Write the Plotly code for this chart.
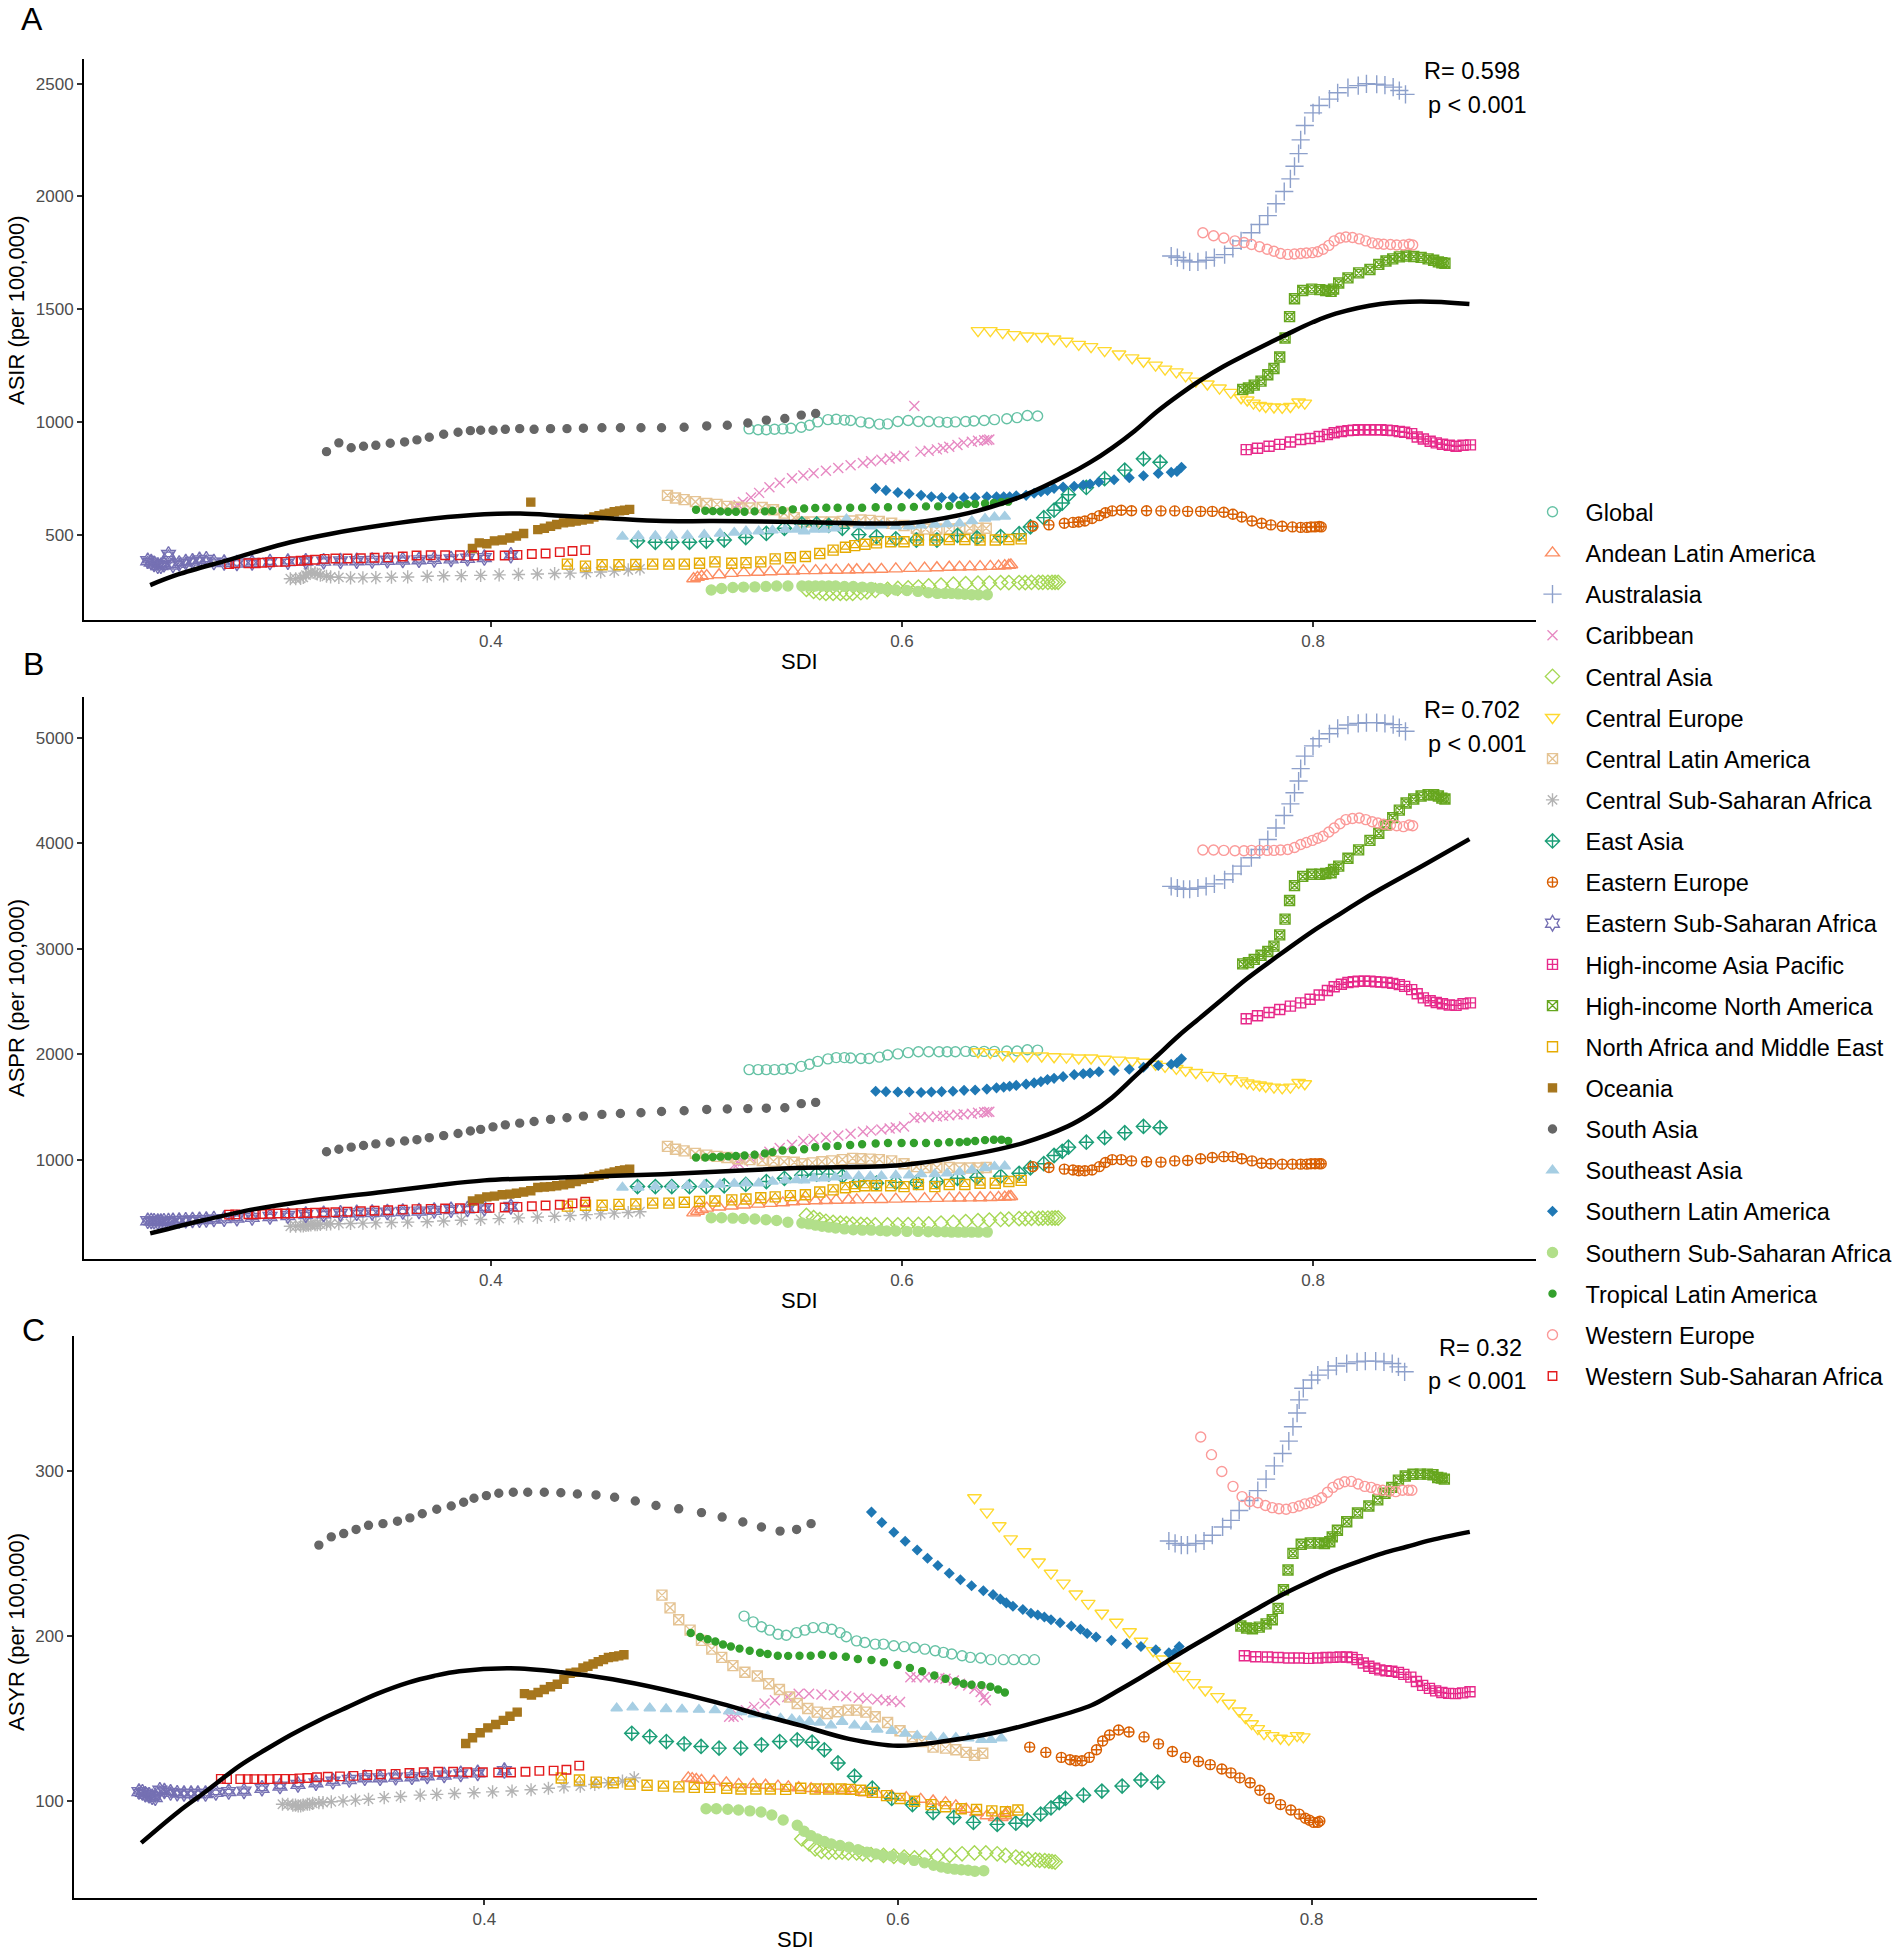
import plotly.graph_objects as go

# ---------- data: SDI (X_*) and panel values (A_* ASIR, B_* ASPR, C_* ASYR) ----------
X_GLOBAL=[.5256,.530,.534,.538,.542,.546,.551,.555,.559,.564,.568,.572,.575,.580,.584,.589,.593,.598,.603,.608,.613,.618,.622,.626,.631,.635,.640,.645,.651,.656,.661,.666]
A_GLOBAL=[969,965,965,967,969,972,976,985,1000,1010,1012,1008,1006,1000,995,990,991,1002,1006,1002,1002,1000,998,1000,1002,1004,1006,1010,1014,1019,1028,1026]
B_GLOBAL=[1854,1854,1854,1854,1858,1865,1885,1905,1932,1956,1968,1968,1964,1960,1960,1972,1992,2003,2015,2023,2023,2023,2023,2023,2027,2027,2027,2027,2031,2031,2043,2039]
C_GLOBAL=[212,208.5,205.5,203.5,201,200.4,202,203.5,205,205,204,202,199.5,197,196,195,195,194,193.5,193,192,191,190,189,188,187,186.6,185.6,185.6,185.6,185.6,185.6]

X_ANDEAN=[.4986,.5005,.5025,.505,.511,.517,.523,.530,.536,.542,.547,.552,.558,.563,.568,.574,.578,.584,.590,.597,.604,.611,.617,.623,.628,.633,.638,.643,.647,.650,.652,.653]
A_ANDEAN=[304,310,315,318,322,328,331,333,335,337,338,340,340,342,342,343,344,345,346,348,350,351,353,355,356,357,358,359,360,362,364,366]
B_ANDEAN=[495,510,525,540,550,560,570,578,585,590,600,605,610,612,615,617,618,620,622,625,628,630,632,635,636,637,638,640,642,645,648,650]
C_ANDEAN=[114,113.5,113,112.5,112,111,110,110,109.5,109,108.5,108,107.5,107,107,106.5,106,105,104,103,102,101,100,99,97,95,93,91,90,90,91,93]

X_AUSTRALASIA=[.731,.734,.737,.740,.744,.748,.752,.757,.761,.765,.770,.774,.778,.782,.786,.789,.791,.793,.794,.796,.800,.803,.808,.812,.817,.822,.826,.831,.835,.839,.842,.845]
A_AUSTRALASIA=[1736,1729,1717,1710,1710,1717,1729,1742,1770,1803,1839,1876,1915,1968,2022,2078,2134,2190,2251,2315,2371,2404,2432,2460,2483,2492,2500,2498,2494,2485,2470,2453]
B_AUSTRALASIA=[3592,3577,3565,3565,3577,3592,3616,3655,3711,3785,3864,3943,4037,4147,4265,4375,4481,4592,4710,4828,4926,4993,5040,5091,5123,5139,5146,5146,5139,5127,5099,5064]
C_AUSTRALASIA=[257.5,256,255,255,256,257.5,261,266,270,276,282,288,295,303,310.5,318,326.7,335,343,350,355,358,361,363.5,365,366,366.5,366.5,366,365,363,360]

X_CARIBBEAN=[.5184,.5205,.5226,.5265,.5305,.5355,.5405,.5465,.552,.557,.563,.569,.575,.581,.585,.590,.594,.597,.601,.606,.609,.613,.617,.620,.623,.627,.630,.634,.637,.640,.6415,.6425]
A_CARIBBEAN=[620,630,645,665,685,710,730,750,762,772,783,795,808,818,825,832,838,845,850,1070,868,872,878,884,890,897,908,912,916,918,920,922]
B_CARIBBEAN=[950,965,985,1015,1040,1075,1110,1140,1177,1195,1210,1228,1245,1265,1275,1285,1295,1305,1315,1395,1401,1405,1410,1415,1420,1425,1430,1435,1445,1450,1452,1455]
C_CARIBBEAN=[151,151,152,155,157,159,161,163,165,165,164.5,164,163.5,162.5,162,161.5,161,160.5,160,175,175,175,175,174.5,174,173,171,170,168,166,163,161]

X_CENTRAL_ASIA=[.5535,.557,.560,.563,.5665,.570,.573,.576,.580,.583,.587,.593,.598,.603,.608,.613,.619,.625,.631,.637,.6425,.648,.652,.657,.660,.663,.6665,.6685,.671,.673,.6745,.676]
A_CENTRAL_ASIA=[257,248,242,239,239,239,239,239,242,246,252,257,261,263,267,272,276,280,282,284,285,287,287,287,287,288,288,288,288,288,288,288]
B_CENTRAL_ASIA=[470,450,430,415,405,398,392,388,385,382,380,380,381,383,385,390,398,405,412,420,426,432,436,440,441,442,443,444,445,445,446,446]
C_CENTRAL_ASIA=[77,74,71,69.5,69,69,69,68.5,68.5,68,67.5,67,66.5,66,65.5,66,66.5,67,68,68.5,68.5,68,67,66,65.2,64.7,64.3,64,63.8,63.5,63.3,63]

X_CENTRAL_EUROPE=[.637,.643,.649,.6545,.661,.668,.674,.680,.686,.692,.6986,.7056,.712,.7175,.7234,.728,.7335,.738,.743,.7486,.7545,.760,.765,.768,.771,.774,.777,.781,.785,.789,.793,.796]
A_CENTRAL_EUROPE=[1405,1405,1396,1387,1381,1379,1368,1358,1344,1334,1316,1301,1284,1269,1252,1234,1222,1204,1181,1168,1150,1131,1107,1097,1083,1073,1068,1066,1064,1068,1088,1083]
B_CENTRAL_EUROPE=[2023,2015,1995,1983,1983,1983,1976,1972,1964,1964,1952,1944,1936,1924,1905,1885,1865,1846,1826,1799,1787,1767,1747,1728,1716,1708,1696,1688,1680,1688,1732,1720]
C_CENTRAL_EUROPE=[283.7,275,266.7,258.8,251,244.8,238,232,225.4,219.7,213.7,208.3,202.5,196.8,191,186,181.6,176.7,171.7,167.2,163.2,159.2,154.5,150.5,146.8,143.8,140.8,139.6,138,137.3,139.6,138.8]

X_CENTRAL_LATAM=[.4859,.4898,.494,.4995,.505,.510,.5148,.5202,.526,.532,.5375,.5427,.5476,.5513,.5564,.561,.5658,.571,.576,.580,.5845,.589,.595,.601,.607,.6115,.617,.623,.628,.633,.637,.641]
A_CENTRAL_LATAM=[674,662,655,646,638,634,625,621,618,620,610,595,575,556,556,556,556,558,560,565,563,558,550,540,528,525,525,525,526,528,528,528]
B_CENTRAL_LATAM=[1126,1098,1083,1059,1043,1031,1020,1008,1000,992,985,980,975,961,969,980,988,1000,1012,1008,1005,1000,988,961,933,925,925,925,921,921,921,925]
C_CENTRAL_LATAM=[224.7,217,209.8,203.5,197.3,192,187,182,178,175.7,171,167.5,163,159,156,153.8,153,154,155,155,153.8,151,147.5,142.5,138.8,136,132.6,132,131,129.4,127.6,128.9]

X_CENTRAL_SSA=[.3024,.305,.3074,.3087,.31,.3112,.3124,.3144,.3155,.317,.32,.322,.326,.3317,.3377,.344,.3516,.3595,.369,.377,.3856,.395,.404,.4134,.4226,.431,.4385,.4464,.4534,.46,.4668,.4725]
A_CENTRAL_SSA=[304,304,306,310,320,330,333,330,325,320,315,312,310,308,308,309,311,312,315,317,318,319,321,323,325,327,329,331,334,338,343,348]
B_CENTRAL_SSA=[368,368,370,372,375,378,380,382,384,386,388,390,392,394,397,400,403,407,411,418,425,432,440,447,455,462,470,478,485,492,498,505]
C_CENTRAL_SSA=[98,98,97.5,97.5,97,97,97.5,98,98,98.5,99,99,99.5,100,100.5,101,102,102.7,103.5,104,104.5,105,105.5,106,106.8,107.7,108.5,109,110,111,112,114]

X_EAST_ASIA=[.4713,.480,.488,.4966,.5048,.5135,.524,.534,.5428,.5513,.5585,.5644,.571,.579,.5876,.597,.607,.617,.627,.6365,.648,.657,.6625,.669,.674,.678,.681,.6897,.6986,.7084,.7175,.7256]
A_EAST_ASIA=[472,466,466,466,470,476,487,505,528,547,547,541,528,500,491,481,476,476,496,485,491,504,534,575,608,640,677,709,748,786,836,821]
B_EAST_ASIA=[744,744,744,744,744,752,764,792,823,851,862,862,843,792,776,784,784,792,823,831,843,870,921,961,1039,1079,1118,1165,1208,1255,1315,1303]
C_EAST_ASIA=[141,139,136,134.6,133,132,132,134,136,137,135.6,131,123,115,107.7,101.5,97.8,93,90,87,85.8,86.5,88.5,92,95.8,99,101.5,103.5,106,109,112.7,111.4]

X_EASTERN_EUROPE=[.6637,.6715,.679,.6832,.686,.689,.6925,.696,.699,.7023,.7067,.7117,.719,.726,.7327,.739,.7453,.751,.7566,.761,.7653,.7703,.775,.7795,.785,.790,.794,.797,.799,.801,.803,.804]
A_EASTERN_EUROPE=[537,543,550,554,556,560,571,584,597,605,608,606,606,605,605,603,603,603,599,590,578,560,550,543,537,534,532,532,534,534,536,534]
B_EASTERN_EUROPE=[933,925,910,902,894,894,902,933,972,1000,1000,988,980,976,988,992,1008,1020,1028,1028,1008,988,965,961,957,957,957,957,961,961,961,961]
C_EASTERN_EUROPE=[132.6,129.4,126.4,125,124.4,124.4,126.4,131,136.3,140,143,141.8,138.8,134.6,130,126.4,123.9,122,119.4,117,114,111,106.5,101.5,97.8,94.5,92,89.5,88.3,87,87,87.8]

X_EASTERN_SSA=[.233,.2347,.2361,.2379,.2394,.2409,.2431,.2453,.2483,.2515,.2548,.2582,.2615,.2652,.2702,.2764,.2838,.2925,.3012,.3099,.3186,.3268,.3347,.3422,.3496,.3571,.365,.3724,.3806,.3886,.3968,.4097]
A_EASTERN_SSA=[384,378,370,362,362,368,412,365,372,378,382,388,390,378,376,374,376,378,380,382,382,383,384,385,386,387,388,390,392,395,398,408]
B_EASTERN_SSA=[420,418,415,412,412,414,418,420,422,425,428,430,432,436,440,445,452,460,470,478,485,490,495,498,502,508,512,518,525,532,540,555]
C_EASTERN_SSA=[105.7,105.2,104,103.5,102.5,102,106.5,106,105.2,104.7,104.5,104.5,104.5,104.5,105.2,105.7,106,107.7,109,110,111,112,113,114,114,114.4,114.6,115.2,115.7,116.4,117,118.4]

X_HI_ASIA_PACIFIC=[.7675,.773,.7786,.7838,.789,.794,.7986,.803,.807,.8103,.8138,.817,.8196,.822,.825,.8277,.8305,.833,.836,.8388,.842,.8446,.848,.8507,.8537,.857,.860,.863,.8663,.8696,.873,.8766]
A_HI_ASIA_PACIFIC=[877,883,892,900,911,922,926,935,944,952,957,961,963,965,965,965,965,965,963,961,957,954,948,933,924,914,907,901,896,892,896,898]
B_HI_ASIA_PACIFIC=[2337,2365,2396,2424,2456,2487,2522,2562,2605,2640,2664,2680,2688,2692,2692,2692,2688,2684,2680,2672,2660,2644,2613,2574,2535,2507,2491,2479,2467,2463,2479,2487]
C_HI_ASIA_PACIFIC=[188,187.4,187.2,186.9,186.6,186.6,186.4,186.6,186.9,187,187.2,187.2,186.9,185.6,183.6,181.6,180.4,179.4,178.9,178.6,177.9,176.7,175,172.4,170,168.2,166.7,165.7,165.2,165,165.5,166.2]

X_HI_NORTH_AMERICA=[.7658,.7686,.7714,.7747,.778,.781,.7838,.7864,.7886,.791,.795,.7994,.8033,.8062,.8088,.81,.8125,.817,.8222,.8277,.832,.8355,.8388,.842,.8453,.849,.8526,.856,.8587,.861,.8627,.8642]
A_HI_NORTH_AMERICA=[1144,1150,1163,1181,1209,1237,1288,1372,1467,1546,1583,1589,1587,1583,1579,1589,1616,1639,1661,1676,1699,1714,1723,1732,1736,1734,1730,1723,1717,1710,1706,1704]
B_HI_NORTH_AMERICA=[2857,2869,2900,2939,2975,3026,3132,3282,3459,3600,3687,3707,3707,3714,3722,3754,3785,3860,3939,4029,4096,4175,4245,4316,4383,4422,4450,4462,4462,4450,4430,4422]
C_HI_NORTH_AMERICA=[206,204.8,204.3,205.3,207.3,209.8,216.7,228,239.9,250,255.5,256.3,256.3,256,257,260,264,269.2,274.5,278.7,282.4,286.4,290,294.4,296.9,297.9,298,298,297.6,296,295.6,295]

X_NAME=[.4372,.446,.4541,.4623,.4705,.4787,.4866,.4941,.5015,.509,.5172,.5241,.5313,.5383,.5457,.553,.560,.5665,.5725,.577,.582,.5876,.5945,.601,.608,.616,.623,.6306,.638,.6454,.652,.658]
A_NAME=[369,360,366,366,367,369,369,369,373,379,373,375,379,392,397,403,416,431,444,451,457,463,468,468,476,476,478,478,476,476,478,481]
B_NAME=[559,567,567,575,579,587,587,595,603,607,618,626,638,646,658,666,693,713,733,744,752,752,752,744,764,744,764,764,776,776,792,803]
C_NAME=[113.9,112.7,111.4,111,110.2,109.5,109,108.5,108.2,108.2,107.7,107.2,107.2,107.2,107,107.7,107.2,107.2,107.2,107,106.5,105.2,103.2,101.5,99.8,97.8,96.5,95.3,94.8,94,93.5,94.5]

X_OCEANIA=[.391,.3943,.398,.4017,.4055,.4092,.4124,.4159,.4194,.4228,.426,.429,.432,.4353,.4385,.4415,.4444,.4477,.4501,.4526,.4551,.4576,.460,.4626,.465,.4675]
A_OCEANIA=[438,463,459,472,476,485,494,505,644,522,528,537,545,552,556,560,565,569,578,584,590,595,601,605,608,612]
B_OCEANIA=[607,626,646,654,666,673,681,693,705,736,740,744,752,760,772,792,811,823,839,850,862,870,882,894,902,910]
C_OCEANIA=[134.8,138.3,141.3,144.3,146.3,148.8,151.3,153.8,165,164.2,165.7,167.5,169.2,170.7,173.7,177.4,178,180.6,181.6,183,184.4,185.6,186.9,187.4,187.9,188.6]

X_SOUTH_ASIA=[.320,.326,.332,.338,.344,.351,.358,.364,.370,.377,.384,.390,.395,.401,.407,.414,.421,.429,.437,.445,.454,.463,.473,.483,.494,.505,.515,.525,.534,.543,.551,.558]
A_SOUTH_ASIA=[868,907,885,892,896,905,911,920,932,945,954,961,963,963,967,970,967,970,970,972,974,974,974,974,976,982,985,995,1008,1015,1030,1037]
B_SOUTH_ASIA=[1075,1098,1118,1134,1149,1165,1177,1189,1208,1228,1248,1271,1287,1311,1330,1346,1362,1382,1397,1413,1429,1437,1445,1456,1464,1476,1480,1484,1488,1492,1531,1543]
C_SOUTH_ASIA=[255,260,262,264.5,267,268,269.5,271.5,274,276.7,278.7,281,283.4,285,286.4,287,287,287,286.7,286,285.4,284,281.7,279,277,274.7,272,269,266,263.5,264.5,268]

X_SOUTHEAST_ASIA=[.464,.4717,.480,.4879,.4956,.5038,.5115,.5184,.5241,.5303,.537,.5432,.5487,.5524,.5572,.5622,.5676,.573,.579,.5846,.590,.597,.6035,.6093,.616,.622,.628,.634,.6404,.645,.650]
A_SOUTHEAST_ASIA=[491,494,494,496,496,500,504,509,515,515,519,522,522,515,522,522,528,568,541,537,541,537,537,541,545,547,550,560,571,577,580]
B_SOUTHEAST_ASIA=[736,736,744,750,752,760,764,772,776,776,792,803,807,803,823,823,831,843,843,840,843,851,851,862,862,870,882,902,921,933,937]
C_SOUTHEAST_ASIA=[156.2,156.7,156.2,155.7,155.5,155.3,155,154.3,153.8,152.5,151.3,150,149.5,148.5,148,147.5,145.8,148,145.8,145,143.3,142.5,140.8,139.6,138.8,138.3,138.3,138,137,137,138]

X_SOUTHERN_LATAM=[.5872,.5922,.598,.6035,.6093,.6143,.6193,.6248,.6302,.6356,.6413,.646,.6495,.6524,.6556,.6604,.6643,.6676,.6708,.674,.6784,.6838,.6882,.6915,.6958,.7032,.7106,.7175,.7247,.731,.7338,.736]
A_SOUTHERN_LATAM=[705,696,687,681,674,668,664,664,664,664,668,668,668,668,672,674,683,690,696,705,711,714,720,724,733,743,752,761,771,776,780,799]
B_SOUTHERN_LATAM=[1649,1645,1641,1641,1637,1641,1645,1649,1657,1661,1669,1681,1688,1696,1704,1716,1728,1740,1759,1771,1787,1806,1814,1822,1834,1846,1858,1877,1893,1905,1917,1956]
C_SOUTHERN_LATAM=[275,268.7,262.8,257.3,252,247,242.6,238,234,230.4,227.4,225,222.4,220,218,216,213.7,212.7,211.5,209.8,208,206,204,201.5,199.3,197.3,195.3,193.6,191.6,189.8,189.8,193.6]

X_SOUTHERN_SSA=[.5072,.5122,.5177,.5229,.5284,.5338,.539,.5445,.5513,.5546,.5579,.5611,.5644,.5677,.572,.5763,.5807,.585,.5894,.5926,.597,.6024,.6078,.6128,.6172,.6209,.6241,.6274,.6306,.6339,.6372,.6415]
A_SOUTHERN_SSA=[254,261,265,267,268,270,272,272,272,272,272,272,272,272,270,270,267,265,261,257,254,252,248,242,239,239,239,237,235,233,233,233]
B_SOUTHERN_SSA=[449,449,445,441,437,430,422,406,398,390,378,367,359,351,343,335,331,331,327,323,323,319,319,315,315,315,312,312,312,312,312,312]
C_SOUTHERN_SSA=[95.3,95.3,95,94.5,94,93.3,91.5,88.5,85.3,81.6,79,77,75.4,74,73,72,70.4,69,67.9,67,66.6,65.4,64,62.5,61,60,59.2,58.7,58.3,58,57.4,57.7]

X_TROPICAL_LATAM=[.4998,.5043,.508,.5117,.5154,.5192,.5234,.5283,.5333,.537,.5419,.5469,.5524,.5578,.5632,.5687,.5748,.5806,.5872,.5932,.5998,.6058,.6117,.6176,.623,.628,.6317,.6356,.6404,.6447,.6484,.6517]
A_TROPICAL_LATAM=[610,606,604,603,601,601,601,603,603,606,608,612,616,618,619,619,619,619,621,621,621,623,625,625,627,631,635,636,638,640,644,646]
B_TROPICAL_LATAM=[1020,1020,1024,1028,1031,1035,1039,1047,1059,1071,1086,1090,1098,1118,1126,1130,1138,1146,1153,1157,1157,1157,1157,1157,1165,1165,1169,1177,1185,1189,1189,1177]
C_TROPICAL_LATAM=[201.8,199.3,198,196.6,194.8,193.6,192.3,191,189.8,189,188,187.9,188,188,188.6,188,187.4,186,185.4,184,182.4,180.6,178.6,176,174,172.4,171,170.4,170.2,169.2,167.5,165.7]

X_WESTERN_EUROPE=[.7464,.7516,.7566,.762,.7664,.7701,.774,.7777,.781,.7842,.7877,.791,.794,.7968,.7997,.8023,.8049,.8077,.8103,.8131,.816,.8192,.8225,.8257,.8288,.8316,.8344,.8377,.8407,.844,.8468,.8485]
A_WESTERN_EUROPE=[1839,1826,1816,1803,1796,1787,1777,1766,1757,1747,1743,1745,1747,1749,1751,1755,1766,1783,1803,1816,1820,1818,1812,1803,1794,1790,1788,1787,1785,1785,1788,1785]
B_WESTERN_EUROPE=[3938,3938,3934,3931,3931,3934,3934,3934,3934,3938,3943,3962,3990,4009,4029,4049,4068,4108,4147,4186,4226,4237,4241,4226,4206,4194,4182,4175,4167,4159,4175,4167]
C_WESTERN_EUROPE=[320.5,309.8,299.6,290.6,284.4,281.4,280.7,279,277.7,277,276.7,277.7,278.7,280,280.7,282,283.7,287,290,292,293.4,293.6,292,290.6,290,288.7,288.2,287.7,287.4,288.2,288.2,288.2]

X_WESTERN_SSA=[.2726,.2756,.282,.2856,.2888,.2925,.2962,.2999,.3037,.3074,.3106,.3144,.3191,.3243,.3302,.3367,.3434,.35,.3571,.3638,.3707,.3777,.3849,.3918,.3993,.4067,.4129,.4199,.4266,.4335,.4397,.4459]
A_WESTERN_SSA=[369,373,373,373,375,377,379,379,382,384,386,388,392,394,394,395,397,399,403,407,408,408,408,407,407,407,410,414,416,422,427,431]
B_WESTERN_SSA=[478,480,482,482,484,486,488,488,490,492,494,496,498,500,505,510,515,520,525,530,533,536,538,540,542,545,552,558,565,572,585,600]
C_WESTERN_SSA=[113.4,113.2,113.2,113.2,113.2,113.2,113.2,113.4,113.4,113.4,113.7,113.9,114.4,114.7,114.9,115.2,115.7,116.2,116.4,116.9,117.4,117.7,117.7,117.4,117.4,117.2,117.2,117.7,118.2,118.4,118.9,121.4]

# fitted curves
X_FIT_A=[.2342,.2478,.2726,.285,.3024,.3223,.3471,.372,.3968,.4142,.434,.4588,.4837,.5085,.5482,.6,.6154,.6371,.6589,.6806,.6915,.7023,.7132,.724,.7349,.7458,.7566,.7675,.7784,.787,.8001,.811,.8327,.8522,.8761]
Y_FIT_A=[276,323,388,422,466,504,541,571,590,593,584,571,560,560,556,550,565,606,672,765,820,885,960,1045,1120,1188,1247,1299,1349,1387,1443,1480,1523,1534,1523]
X_FIT_B=[.2342,.2602,.285,.3099,.3471,.372,.3968,.434,.4837,.5482,.6,.6371,.6589,.6806,.6915,.7023,.7132,.724,.7349,.7458,.7566,.7675,.7784,.787,.8001,.811,.8218,.8327,.8544,.8761]
Y_FIT_B=[300,425,530,605,693,752,803,831,862,921,949,1059,1157,1315,1435,1590,1787,1983,2180,2357,2534,2711,2869,2990,3170,3305,3439,3565,3800,4041]
X_FIT_C=[.2341,.2521,.2645,.2818,.2941,.3064,.32,.3336,.3484,.3632,.3756,.3879,.4126,.4373,.462,.4866,.5113,.536,.5528,.5763,.5998,.6232,.6467,.6701,.6936,.7053,.717,.7288,.7405,.7522,.7639,.7757,.7874,.7991,.8108,.8226,.8343,.846,.8577,.8765]
Y_FIT_C=[74.6,93.5,105,121.4,131,140,148.8,156.7,165,171.7,175.7,178.6,180.4,178,173.7,167.5,160,151.3,145.8,137.6,133.4,136.3,141.3,148.8,158,166,174.5,183.5,192.5,201,209.5,218,226,233,239.5,245,250,254,258,263]

REGIONS=["Global","Andean Latin America","Australasia","Caribbean","Central Asia","Central Europe","Central Latin America","Central Sub-Saharan Africa","East Asia","Eastern Europe","Eastern Sub-Saharan Africa","High-income Asia Pacific","High-income North America","North Africa and Middle East","Oceania","South Asia","Southeast Asia","Southern Latin America","Southern Sub-Saharan Africa","Tropical Latin America","Western Europe","Western Sub-Saharan Africa"]
COLUMNS=[(X_GLOBAL,A_GLOBAL,B_GLOBAL,C_GLOBAL),(X_ANDEAN,A_ANDEAN,B_ANDEAN,C_ANDEAN),(X_AUSTRALASIA,A_AUSTRALASIA,B_AUSTRALASIA,C_AUSTRALASIA),(X_CARIBBEAN,A_CARIBBEAN,B_CARIBBEAN,C_CARIBBEAN),(X_CENTRAL_ASIA,A_CENTRAL_ASIA,B_CENTRAL_ASIA,C_CENTRAL_ASIA),(X_CENTRAL_EUROPE,A_CENTRAL_EUROPE,B_CENTRAL_EUROPE,C_CENTRAL_EUROPE),(X_CENTRAL_LATAM,A_CENTRAL_LATAM,B_CENTRAL_LATAM,C_CENTRAL_LATAM),(X_CENTRAL_SSA,A_CENTRAL_SSA,B_CENTRAL_SSA,C_CENTRAL_SSA),(X_EAST_ASIA,A_EAST_ASIA,B_EAST_ASIA,C_EAST_ASIA),(X_EASTERN_EUROPE,A_EASTERN_EUROPE,B_EASTERN_EUROPE,C_EASTERN_EUROPE),(X_EASTERN_SSA,A_EASTERN_SSA,B_EASTERN_SSA,C_EASTERN_SSA),(X_HI_ASIA_PACIFIC,A_HI_ASIA_PACIFIC,B_HI_ASIA_PACIFIC,C_HI_ASIA_PACIFIC),(X_HI_NORTH_AMERICA,A_HI_NORTH_AMERICA,B_HI_NORTH_AMERICA,C_HI_NORTH_AMERICA),(X_NAME,A_NAME,B_NAME,C_NAME),(X_OCEANIA,A_OCEANIA,B_OCEANIA,C_OCEANIA),(X_SOUTH_ASIA,A_SOUTH_ASIA,B_SOUTH_ASIA,C_SOUTH_ASIA),(X_SOUTHEAST_ASIA,A_SOUTHEAST_ASIA,B_SOUTHEAST_ASIA,C_SOUTHEAST_ASIA),(X_SOUTHERN_LATAM,A_SOUTHERN_LATAM,B_SOUTHERN_LATAM,C_SOUTHERN_LATAM),(X_SOUTHERN_SSA,A_SOUTHERN_SSA,B_SOUTHERN_SSA,C_SOUTHERN_SSA),(X_TROPICAL_LATAM,A_TROPICAL_LATAM,B_TROPICAL_LATAM,C_TROPICAL_LATAM),(X_WESTERN_EUROPE,A_WESTERN_EUROPE,B_WESTERN_EUROPE,C_WESTERN_EUROPE),(X_WESTERN_SSA,A_WESTERN_SSA,B_WESTERN_SSA,C_WESTERN_SSA)]

# ---------- styles ----------
COLORS=["#66C2A5","#FC8D62","#8DA0CB","#E78AC3","#A6D854","#FFD92F","#E5C494","#B3B3B3","#1B9E77","#D95F02","#7570B3","#E7298A","#66A61E","#E6AB02","#A6761D","#666666","#A6CEE3","#1F78B4","#B2DF8A","#33A02C","#FB9A99","#E31A1C"]
SYMBOLS=["circle-open","triangle-up-open","cross-thin-open","x-thin-open","diamond-open","triangle-down-open","square-x-open","asterisk-open","diamond-cross-open","circle-cross-open","hexagram-open","square-cross-open","square-x-open","square-open","square","circle","triangle-up","diamond","circle","circle","circle-open","square-open"]
SIZES=[10,12,13,10,11,12,10,11,11,10,12,10,10,10,8,8,10,7,10,7,10,8.5]
OVERLAYS={"North Africa and Middle East":[("triangle-up-open",8)],
          "Eastern Sub-Saharan Africa":[("triangle-up-open",9),("triangle-down-open",9)],
          "High-income North America":[("circle-open",7)]}
W=1902; H=1954
PANELS=[("x","y",84,1536,59,620,[121,2610],[500,1000,1500,2000,2500],"ASIR (per 100,000)",0.202,0.9085),
        ("x2","y2",84,1536,696.5,1259,[57,5394],[1000,2000,3000,4000,5000],"ASPR (per 100,000)",0.202,0.9085),
        ("x3","y3",74,1537,1335.5,1898,[41.2,382],[100,200,300],"ASYR (per 100,000)",0.2016,0.909)]
FITS=[(X_FIT_A,Y_FIT_A),(X_FIT_B,Y_FIT_B),(X_FIT_C,Y_FIT_C)]

fig=go.Figure()
for p,(xa,ya,*_) in enumerate(PANELS):
    for i,name in enumerate(REGIONS):
        xs=COLUMNS[i][0]; ys=COLUMNS[i][p+1]; n=min(len(xs),len(ys))
        fig.add_trace(go.Scatter(x=xs[:n],y=ys[:n],mode="markers",name=name,legendgroup=name,showlegend=p==0,xaxis=xa,yaxis=ya,
            marker=dict(symbol=SYMBOLS[i],size=SIZES[i],color=COLORS[i],line=dict(color=COLORS[i],width=1.4))))
        for sym,sz in OVERLAYS.get(name,[]):
            fig.add_trace(go.Scatter(x=xs[:n],y=ys[:n],mode="markers",legendgroup=name,showlegend=False,xaxis=xa,yaxis=ya,
                marker=dict(symbol=sym,size=sz,color=COLORS[i],line=dict(color=COLORS[i],width=1.2))))
for p,(xa,ya,*_) in enumerate(PANELS):
    fig.add_trace(go.Scatter(x=FITS[p][0],y=FITS[p][1],mode="lines",showlegend=False,xaxis=xa,yaxis=ya,
        line=dict(color="black",width=4.5,shape="spline",smoothing=1.0)))

layout=dict(width=W,height=H,margin=dict(l=0,r=0,t=0,b=0),paper_bgcolor="white",plot_bgcolor="white",
    font=dict(family="Liberation Sans, Arial, sans-serif",color="black"),
    legend=dict(x=1519.5/W,xanchor="left",y=1-490/H,yanchor="top",tracegroupgap=7.6,font=dict(size=23.5),bgcolor="rgba(0,0,0,0)",itemwidth=56),
    showlegend=True)
for (xa,ya,l,r,t,b,yr,yl,yt,x0,x1) in PANELS:
    xk="xaxis"+xa[1:]; yk="yaxis"+ya[1:]
    layout[xk]=dict(domain=[l/W,r/W],range=[x0,x1],anchor=ya,tickvals=[0.4,0.6,0.8],ticktext=["0.4","0.6","0.8"],showgrid=False,zeroline=False,
        showline=True,linecolor="black",linewidth=2,ticks="outside",ticklen=5,tickwidth=1.5,tickcolor="#333333",tickfont=dict(size=17,color="#4D4D4D"),automargin=False)
    layout[yk]=dict(domain=[1-b/H,1-t/H],range=yr,anchor=xa,tickvals=yl,ticktext=[str(v) for v in yl],showgrid=False,zeroline=False,
        showline=True,linecolor="black",linewidth=2,ticks="outside",ticklen=5,tickwidth=1.5,tickcolor="#333333",tickfont=dict(size=17,color="#4D4D4D"),automargin=False)
def note(text,px,py,size,angle=0):
    return dict(text=text,x=px/W,y=1-py/H,xref="paper",yref="paper",showarrow=False,xanchor="center",yanchor="middle",textangle=angle,font=dict(size=size,color="black"))
layout["annotations"]=[note("A",32,19,32),note("B",33,664,32),note("C",33,1330,32),
    note("R= 0.598",1472,71,23.5),note("p < 0.001",1477,105,23.5),
    note("R= 0.702",1472,710,23.5),note("p < 0.001",1477,744,23.5),
    note("R= 0.32",1480,1348,23.5),note("p < 0.001",1477,1381,23.5),
    note("ASIR (per 100,000)",16,310,22,-90),note("ASPR (per 100,000)",16,998,22,-90),note("ASYR (per 100,000)",16,1632,22,-90),
    note("SDI",799,661,22),note("SDI",799,1300,22),note("SDI",795,1939,22)]
fig.update_layout(**layout)
fig.write_html("out.html",post_script="document.body.style.margin='0';",config={"displayModeBar":False})
